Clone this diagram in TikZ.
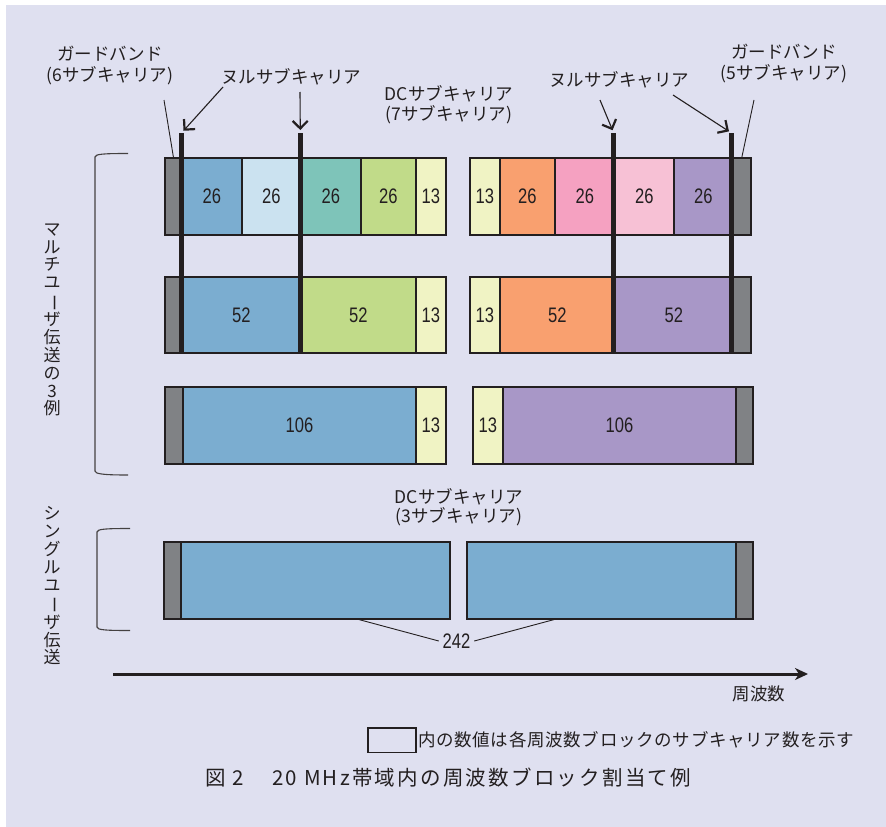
\documentclass[tikz,border=0pt]{standalone}
\usepackage{fontspec}
\usepackage{graphicx}
\setmainfont{Noto Sans CJK JP}
\newfontfamily\numfont[FakeStretch=0.79]{Liberation Sans}
\usetikzlibrary{arrows.meta,calc}
\definecolor{ink}{RGB}{35,31,32}
\definecolor{bgl}{RGB}{223,224,240}
\definecolor{cgray}{RGB}{128,130,133}
\definecolor{cblue}{RGB}{123,173,208}
\definecolor{cltblue}{RGB}{203,226,240}
\definecolor{cteal}{RGB}{126,196,185}
\definecolor{cgreen}{RGB}{193,219,137}
\definecolor{cyel}{RGB}{240,243,196}
\definecolor{corange}{RGB}{249,160,111}
\definecolor{cpink}{RGB}{245,161,193}
\definecolor{cltpink}{RGB}{247,193,213}
\definecolor{cpurple}{RGB}{168,151,199}
\tikzset{
  cell/.style={draw=ink, line width=1.8pt, anchor=north west, inner sep=0pt,
    minimum height=77pt, text=ink, font=\numfont\fontsize{21}{21}\selectfont},
  lab/.style={inner sep=0pt, text=ink, font=\fontsize{17.5}{21}\selectfont},
  bar/.style={draw=ink, line width=4.5pt},
  thinline/.style={draw=ink, line width=0.9pt},
  nullarrow/.style={draw=ink, line width=1.1pt,
    -{Straight Barb[length=7.5pt,width=15pt,line width=2.2pt]}},
  bracket/.style={draw=ink!85, line width=1.1pt},
}
\begin{document}
\begin{tikzpicture}[x=1pt,y=-1pt]
\useasboundingbox (0,0) rectangle (886,827);
\fill[white] (0,0) rectangle (886,827);
\fill[bgl] (6,5) rectangle (886,827);

% ---- Row 1 ----
\node[cell, fill=cgray, minimum width=17pt] (r1lg) at (164,157) {};
\node[cell, fill=cblue, minimum width=60pt] (r1a) at (181,157) {26};
\node[cell, fill=cltblue, minimum width=59pt] (r1b) at (241,157) {26};
\node[cell, fill=cteal, minimum width=60pt] (r1c) at (300,157) {26};
\node[cell, fill=cgreen, minimum width=55pt] (r1d) at (360,157) {26};
\node[cell, fill=cyel, minimum width=30pt] (r1e) at (415,157) {13};
\node[cell, fill=cyel, minimum width=30pt] (r1f) at (469,157) {13};
\node[cell, fill=corange, minimum width=55pt] (r1g) at (499,157) {26};
\node[cell, fill=cpink, minimum width=60pt] (r1h) at (554,157) {26};
\node[cell, fill=cltpink, minimum width=59pt] (r1i) at (614,157) {26};
\node[cell, fill=cpurple, minimum width=59pt] (r1j) at (673,157) {26};
\node[cell, fill=cgray, minimum width=18pt] (r1rg) at (732,157) {};

% ---- Row 2 ----
\node[cell, fill=cgray, minimum width=17pt, minimum height=76pt] (r2lg) at (164,276) {};
\node[cell, fill=cblue, minimum width=119pt, minimum height=76pt] (r2a) at (181,276) {52};
\node[cell, fill=cgreen, minimum width=115pt, minimum height=76pt] (r2b) at (300,276) {52};
\node[cell, fill=cyel, minimum width=30pt, minimum height=76pt] (r2c) at (415,276) {13};
\node[cell, fill=cyel, minimum width=30pt, minimum height=76pt] (r2d) at (469,276) {13};
\node[cell, fill=corange, minimum width=115pt, minimum height=76pt] (r2e) at (499,276) {52};
\node[cell, fill=cpurple, minimum width=118pt, minimum height=76pt] (r2f) at (614,276) {52};
\node[cell, fill=cgray, minimum width=18pt, minimum height=76pt] (r2rg) at (732,276) {};

% ---- Row 3 ----
\node[cell, fill=cgray, minimum width=18pt] (r3lg) at (164,386) {};
\node[cell, fill=cblue, minimum width=233pt] (r3a) at (182,386) {106};
\node[cell, fill=cyel, minimum width=30pt] (r3b) at (415,386) {13};
\node[cell, fill=cyel, minimum width=30pt] (r3c) at (472,386) {13};
\node[cell, fill=cpurple, minimum width=233pt] (r3d) at (502,386) {106};
\node[cell, fill=cgray, minimum width=17pt] (r3rg) at (735,386) {};

% ---- Single user ----
\node[cell, fill=cgray, minimum width=17pt] (s1g) at (163,541) {};
\node[cell, fill=cblue, minimum width=269pt] (s1a) at (180,541) {};
\node[cell, fill=cblue, minimum width=269pt] (s1b) at (466,541) {};
\node[cell, fill=cgray, minimum width=17pt] (s1rg) at (735,541) {};

% ---- Null subcarrier bars ----
\coordinate (t1) at (181.5,133); \coordinate (b1) at (181.5,352.5);
\coordinate (t2) at (300.3,133); \coordinate (b2) at (300.3,352.5);
\coordinate (t3) at (613.7,133); \coordinate (b3) at (613.7,352.5);
\coordinate (t4) at (731.5,133); \coordinate (b4) at (731.5,352.5);
\draw[bar] (t1) -- (b1);
\draw[bar] (t2) -- (b2);
\draw[bar] (t3) -- (b3);
\draw[bar] (t4) -- (b4);

% ---- Labels ----
\node[lab, align=center] (gl) at (110,65.5) {ガードバンド\\(6サブキャリア)};
\node[lab, align=center] (gr) at (784,64) {ガードバンド\\(5サブキャリア)};
\node[lab] (nl) at (291,77) {ヌルサブキャリア};
\node[lab] (nr) at (619,80) {ヌルサブキャリア};
\node[lab, align=center, font=\fontsize{17.5}{20}\selectfont] (dc1) at (449,105) {DCサブキャリア\\(7サブキャリア)};
\node[lab, align=center, font=\fontsize{17.5}{19.5}\selectfont] (dc2) at (459,507) {DCサブキャリア\\(3サブキャリア)};

\coordinate (glp) at (164,100);
\coordinate (grp) at (754,100);
\draw[thinline] (glp) -- (r1lg.north);
\draw[thinline] (grp) -- (r1rg.north);

\coordinate (na1) at (223,87);
\coordinate (na2) at (300,92);
\coordinate (na3) at (600,100);
\coordinate (na4) at (673,95);
\draw[nullarrow, shorten >=3pt] (na1) -- (t1);
\draw[nullarrow, shorten >=3pt] (na2) -- (t2);
\draw[nullarrow, shorten >=3pt] (na3) -- (t3);
\draw[nullarrow, shorten >=3pt] (na4) -- (t4);

% ---- 242 ----
\node[cell, draw=none, anchor=center, minimum height=0pt] (n242) at (456.5,641) {242};
\coordinate (s242a) at (355,618.5);
\coordinate (s242b) at (558,618.5);
\draw[thinline] (s242a) -- ($(n242.west)+(-3,0)$);
\draw[thinline] ($(n242.east)+(3,0)$) -- (s242b);

% ---- Brackets ----
\draw[bracket] (128,153.5) .. controls (104,153.5) and (95,154) .. (95,157) -- (95,471) .. controls (95,474) and (104,475) .. (128,475);
\draw[bracket] (130,528.5) .. controls (106,528.5) and (97,529) .. (97,532) -- (97,627) .. controls (97,630) and (106,630.5) .. (130,630.5);

% ---- Vertical texts ----
\node[lab, align=center, font=\fontsize{17}{17.8}\selectfont] (vt1) at (52,320)
  {マ\\ル\\チ\\ユ\\\rotatebox[origin=c]{-90}{ー}\\ザ\\伝\\送\\の\\3\\例};
\node[lab, align=center, font=\fontsize{17}{17.8}\selectfont] (vt2) at (52,586)
  {シ\\ン\\グ\\ル\\ユ\\\rotatebox[origin=c]{-90}{ー}\\ザ\\伝\\送};

% ---- Frequency axis ----
\coordinate (fa) at (113,674);
\coordinate (fb) at (808,674);
\draw[draw=ink, line width=3pt, -{Stealth[length=13pt,width=12pt,inset=4pt]}] (fa) -- (fb);
\node[lab] (freq) at (759,694) {周波数};

% ---- Legend ----
\node[draw=ink, line width=1.8pt, minimum width=48pt, minimum height=24.5pt, inner sep=0pt, anchor=north west] (lgbox) at (367,727) {};
\node[lab, anchor=west, font=\fontsize{17.5}{21}\selectfont\addfontfeature{LetterSpace=4}] (lgtext) at (418,739.5) {内の数値は各周波数ブロックのサブキャリア数を示す};

% ---- Caption ----
\node[lab, anchor=west, font=\fontsize{20.5}{22}\selectfont\addfontfeature{LetterSpace=11}] (cap1) at (205,778) {図 2};
\node[lab, anchor=west, font=\fontsize{20.5}{22}\selectfont\addfontfeature{LetterSpace=11}] (cap2) at (272,778) {20 MHz帯域内の周波数ブロック割当て例};
\end{tikzpicture}
\end{document}
